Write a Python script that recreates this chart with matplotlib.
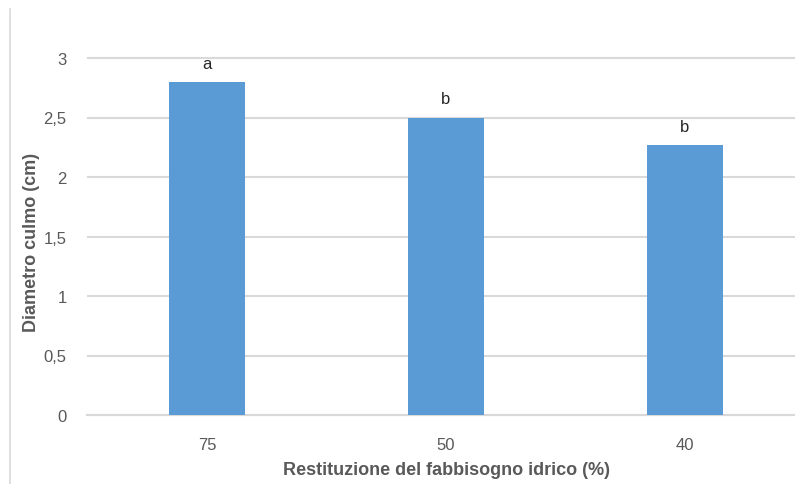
import matplotlib.pyplot as plt
from matplotlib.lines import Line2D

# Stem diameter by irrigation level
restituzione = ["75", "50", "40"]
diametro = [2.8, 2.5, 2.27]
lettere = ["a", "b", "b"]
y_ticks = [0, 0.5, 1, 1.5, 2, 2.5, 3]
y_tick_labels = ["0", "0,5", "1", "1,5", "2", "2,5", "3"]

plt.rcParams['font.family'] = ['Liberation Sans', 'DejaVu Sans']
text_color = '#595959'

fig = plt.figure(figsize=(7.95, 4.85), dpi=100)
ax = fig.add_axes([87.5 / 795, 69 / 485, 717 / 795, 357 / 485])

x = range(len(restituzione))
ax.bar(x, diametro, width=0.314, color='#5b9bd5', zorder=3)

for xi, val, let in zip(x, diametro, lettere):
    ax.annotate(let, (xi, val), xytext=(0, 8), textcoords='offset points',
                ha='center', va='bottom', fontsize=12, color='#262626')

ax.set_xlim(-0.5, 2.5)
ax.set_ylim(0, 3)
ax.set_yticks(y_ticks)
ax.set_yticklabels(y_tick_labels)
ax.set_xticks(list(x))
ax.set_xticklabels(restituzione)
ax.tick_params(axis='both', length=0, labelsize=12, colors=text_color)
ax.tick_params(axis='x', pad=16)
ax.tick_params(axis='y', pad=15)

ax.yaxis.grid(True, color='#d9d9d9', linewidth=1.5, zorder=0)
for gl in ax.get_ygridlines():
    gl.set_clip_on(False)
for side in ['top', 'right', 'left']:
    ax.spines[side].set_visible(False)
ax.spines['bottom'].set_color('#d9d9d9')
ax.spines['bottom'].set_linewidth(1.5)

ax.set_xlabel('Restituzione del fabbisogno idrico (%)', fontsize=13,
              fontweight='bold', color=text_color)
ax.set_ylabel('Diametro culmo (cm)', fontsize=13, fontweight='bold',
              color=text_color)
ax.yaxis.set_label_coords(-0.066, 0.485)
ax.xaxis.set_label_coords((446 - 87.5) / 717, -0.13)

# chart frame edge on the left
fig.add_artist(Line2D([10 / 795, 10 / 795], [0, 1 - 10 / 485],
                      color='#d9d9d9', linewidth=1.2))

fig.savefig('out.png', dpi=100)
